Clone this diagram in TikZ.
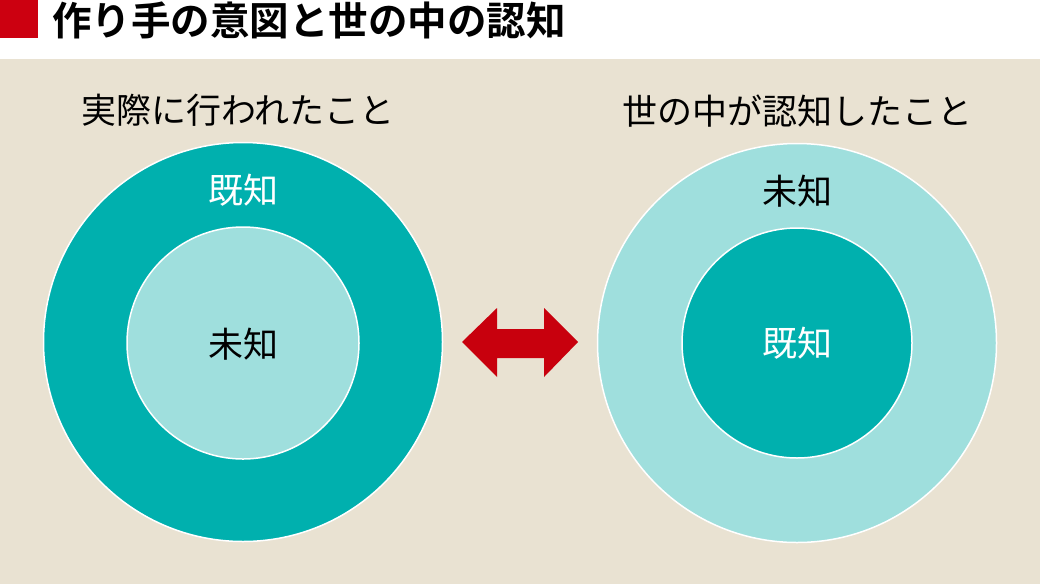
\documentclass[tikz,border=0pt]{standalone}
\usepackage{fontspec}
\newfontfamily\jp{Noto Sans CJK JP}
\newfontfamily\jpb{Noto Sans CJK JP Bold}
\definecolor{beige}{HTML}{E9E2D2}
\definecolor{tealdark}{HTML}{00B0AE}
\definecolor{teallight}{HTML}{9FDFDD}
\definecolor{redmark}{HTML}{CC0010}
\definecolor{redarrow}{HTML}{C8000D}
\tikzset{
  ring/.style={circle, draw=white, line width=1.5pt, inner sep=0pt},
  sub/.style={inner sep=0pt, font=\jp\fontsize{35}{40}\selectfont, text=black},
  lbl/.style={inner sep=0pt, font=\jp\fontsize{35}{40}\selectfont},
}
\begin{document}
\begin{tikzpicture}[x=1pt,y=-1pt]
\useasboundingbox (0,0) rectangle (1040,584);
\fill[white] (0,0) rectangle (1040,59);
\fill[beige] (0,59) rectangle (1040,584);
\fill[redmark] (0,0) rectangle (38,38);
\node[inner sep=0pt, anchor=west, font=\jpb\fontsize{39.5}{44}\selectfont] (title) at (52,20) {作り手の意図と世の中の認知};
\node[sub] (subl) at (238,110) {実際に行われたこと};
\node[sub] (subr) at (797,111) {世の中が認知したこと};
% left
\node[ring, fill=tealdark, minimum size=399pt] (lo) at (243,342) {};
\node[ring, fill=teallight, minimum size=232pt] (li) at (243,343) {};
\node[lbl, text=white] (lk) at (243,190) {既知};
\node[lbl, text=black] (lu) at (243,344) {未知};
% right
\node[ring, fill=teallight, minimum size=399pt] (ro) at (797,343) {};
\node[ring, fill=tealdark, minimum size=230pt] (ri) at (797,343) {};
\node[lbl, text=black] (ru) at (797,191) {未知};
\node[lbl, text=white] (rk) at (797,343) {既知};
% double arrow
\fill[redarrow] (462,342) -- (497,308) -- (497,329) -- (544,329) -- (544,308) -- (578,342)
  -- (544,377) -- (544,358) -- (497,358) -- (497,377) -- cycle;
\end{tikzpicture}
\end{document}
